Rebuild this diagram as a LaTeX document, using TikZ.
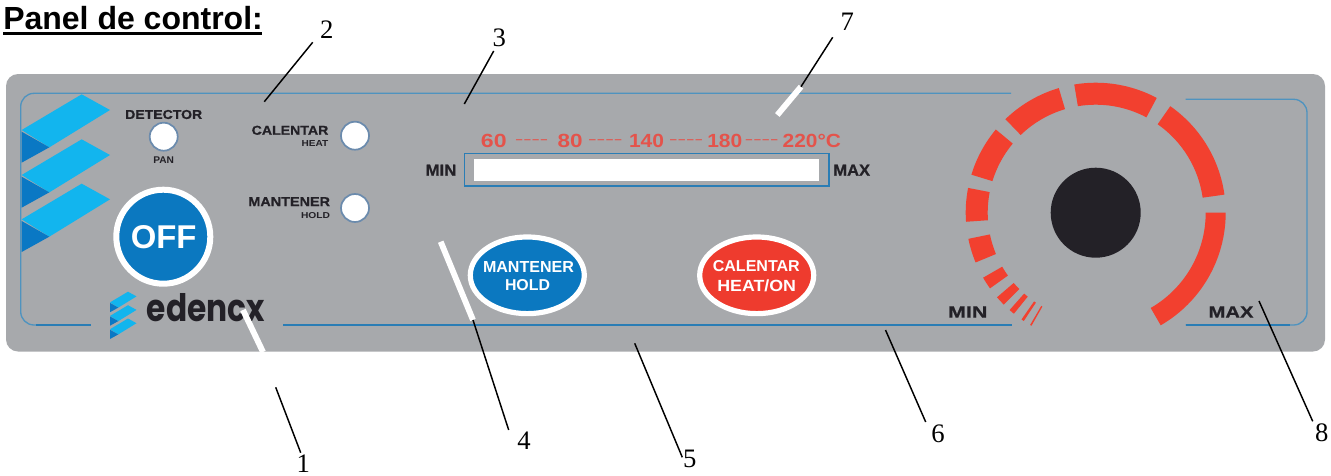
\documentclass[tikz,border=0pt]{standalone}
\usetikzlibrary{shapes.geometric}
\usepackage{fontspec}
\setmainfont{Liberation Serif}
\newfontfamily\pf{Liberation Sans}
\newfontfamily\pfh[FakeBold=0.7]{Liberation Sans Bold}
\newfontfamily\logof{Poppins}
\usepackage{graphicx}
\definecolor{panelgrey}{HTML}{A7A9AC}
\definecolor{frameblue}{HTML}{2A7DB5}
\definecolor{frametop}{HTML}{4F93BF}
\definecolor{btnblue}{HTML}{0B78C0}
\definecolor{btnred}{HTML}{EE3B2E}
\definecolor{ringred}{HTML}{F2402F}
\definecolor{scalered}{HTML}{E4534B}
\definecolor{inkdark}{HTML}{232127}
\definecolor{chevlight}{HTML}{12B5EE}
\definecolor{chevdark}{HTML}{0A78C4}
\definecolor{ledring}{HTML}{6B8BAD}
\newdimen\pxu \pxu=.75pt
\newcommand\fitt[3]{\resizebox{#1\pxu}{#2\pxu}{\pf\bfseries #3}}
\newcommand\fitk[3]{\resizebox{#1\pxu}{#2\pxu}{\pfh #3}}
\newcommand\seg[3][97.5pt]{\fill[ringred] (#2:#1) arc[start angle=#2,end angle=#3,radius=#1] -- (#3:81pt) arc[start angle=#3,end angle=#2,radius=81pt] -- cycle;}
\newcommand\chevrons{%
  \foreach \d in {0,135,268}{
    \fill[chevlight] (65,210+\d) -- (245,103+\d) -- (330,150+\d) -- (148,262+\d) -- cycle;
    \fill[chevdark] (65,215+\d) -- (148,262+\d) -- (65,308+\d) -- cycle;
  }}
\tikzset{
  txt/.style={inner sep=0pt,outer sep=0pt,text=inkdark},
  wtxt/.style={inner sep=0pt,outer sep=0pt,text=white},
  rtxt/.style={inner sep=0pt,outer sep=0pt,text=scalered},
  digit/.style={inner sep=0pt,outer sep=0pt,font=\fontsize{20}{20}\selectfont,text=black},
  leader/.style={draw=black,line width=1.1pt},
  whitelead/.style={draw=white,line width=4.4pt},
  framea/.style={draw=frametop,line width=1pt},
  frameb/.style={draw=frameblue,line width=1.2pt},
  led/.style={circle,draw=ledring,fill=white,line width=1.3pt,minimum size=21pt,inner sep=0pt},
  oval/.style={ellipse,draw=white,line width=3.9pt,minimum width=85.5pt,minimum height=57.5pt,inner sep=0pt},
}
\begin{document}
\begin{tikzpicture}[x=.75pt,y=-.75pt]
\useasboundingbox (0,0) rectangle (1331,475);
% title
\node[anchor=base west,inner sep=0pt,font=\pf\bfseries\fontsize{24}{24}\selectfont] (title) at (3,29) {Panel de control:};
\draw[line width=2.6pt] (3,33.5) -- (262,33.5);
% panel
\fill[panelgrey,rounded corners=9pt] (6,74) rectangle (1325,351.5);
% frame lines
\draw[framea,rounded corners=10pt] (1011,93.3) -- (20.7,93.3) -- (20.7,325) -- (90.7,325);
\draw[frameb] (36,325) -- (90.7,325);
\draw[frameb] (283.3,325) -- (1011.7,325);
\draw[framea,rounded corners=10pt] (1185.7,99.3) -- (1307,99.3) -- (1307,325) -- (1185.7,325);
\draw[frameb] (1185.7,325) -- (1290,325);
% big logo
\begin{scope}[shift={(0,60)},x=.25pt,y=-.25pt]
\chevrons
\end{scope}
% small logo
\begin{scope}[shift={(103.5,281.4)},x=.075pt,y=-.075pt]
\chevrons
\end{scope}
\node[txt] (edencx) at (205.8,307.5) {\resizebox{118\pxu}{28\pxu}{\logof\bfseries edencx}};
% LEDs and labels
\node[led] (ledpan) at (163.7,136.7) {};
\node[led] (ledheat) at (355,135.7) {};
\node[led] (ledhold) at (355,208) {};
\node[txt] (tdet) at (163.7,114.5) {\fitk{77}{9}{DETECTOR}};
\node[txt] (tpan) at (163.7,160.3) {\fitt{20.7}{6.7}{PAN}};
\node[txt] (tcal) at (290,130.3) {\fitk{76.7}{9}{CALENTAR}};
\node[txt] (theat) at (315,143.7) {\fitt{26.7}{6}{HEAT}};
\node[txt] (tman) at (289.2,201.7) {\fitk{81.7}{9}{MANTENER}};
\node[txt] (thold) at (315.5,215.3) {\fitt{29}{6}{HOLD}};
% OFF
\node[circle,fill=btnblue,draw=white,line width=4.5pt,minimum size=70.5pt,inner sep=0pt] (off) at (163.3,236.7) {};
\node[wtxt] (tooff) at (163.7,236.7) {\fitt{65.7}{23}{OFF}};
% gauge
\node[draw=frameblue,line width=1.2pt,minimum width=273.7pt,minimum height=24.4pt,inner sep=0pt] (gauge) at (646.8,169.6) {};
\node[fill=white,minimum width=258.7pt,minimum height=16.5pt,inner sep=0pt] (gaugein) at (646.5,170) {};
\node[rtxt] (s60) at (493.8,141) {\fitt{25.7}{13.3}{60}};
\node[rtxt] (d1) at (531.7,141.5) {\fitt{33}{2.8}{-{}-{}-{}-}};
\node[rtxt] (s80) at (570.2,141) {\fitt{25}{13.3}{80}};
\node[rtxt] (d2) at (605.3,141.5) {\fitt{34.5}{2.8}{-{}-{}-{}-}};
\node[rtxt] (s140) at (646.5,141) {\fitt{35}{13.3}{140}};
\node[rtxt] (d3) at (686,141.5) {\fitt{34}{2.8}{-{}-{}-{}-}};
\node[rtxt] (s180) at (724.8,141) {\fitt{35}{13.3}{180}};
\node[rtxt] (d4) at (761.7,141.5) {\fitt{33.5}{2.8}{-{}-{}-{}-}};
\node[rtxt] (s220) at (811.8,141) {\fitt{58.3}{13.3}{220°C}};
\node[txt] (tmin1) at (441,170.2) {\fitk{30.7}{11}{MIN}};
\node[txt] (tmax1) at (851.7,170.2) {\fitk{36.7}{11}{MAX}};
% buttons
\node[oval,fill=btnblue] (bhold) at (527.3,275.3) {};
\node[oval,fill=btnred] (bheat) at (756.7,275.3) {};
\node[wtxt] (tb1) at (528.5,266.5) {\fitt{91}{11}{MANTENER}};
\node[wtxt] (tb2) at (527.5,285.3) {\fitt{45}{11}{HOLD}};
\node[wtxt] (tb3) at (756.3,266.5) {\fitt{87}{11}{CALENTAR}};
\node[wtxt] (tb4) at (756.7,285.5) {\fitt{78.7}{11.7}{HEAT/ON}};
% ring
\begin{scope}[shift={(1095.7,212.7)}]
\fill[ringred] (0:97.5pt) arc[start angle=0,end angle=-60,radius=97.5pt] -- (-60:82.5pt) arc[start angle=-60,end angle=0,radius=82.5pt] -- cycle;
\seg{8}{55}
\seg{62}{99.5}
\seg{106.5}{134}
\seg{140.2}{163}
\seg{169}{184}
\seg{191.6}{202.5}
\seg{210}{215.6}
\seg{220.6}{225}
\seg{228.5}{231}
\seg{235.2}{236.4}
\seg{239.7}{240.4}
\end{scope}
\node[circle,fill=inkdark,minimum size=67.5pt,inner sep=0pt] (knob) at (1095.7,212.7) {};
\node[txt] (tmin2) at (967.7,312) {\fitk{39.3}{11.3}{MIN}};
\node[txt] (tmax2) at (1231,312) {\fitk{45}{11.3}{MAX}};
% digits
\node[digit] (n1) at (303.3,463.6) {1};
\node[digit] (n2) at (326.7,29.3) {2};
\node[digit] (n3) at (499.3,38.3) {3};
\node[digit] (n4) at (524,441) {4};
\node[digit] (n5) at (689.7,459.3) {5};
\node[digit] (n6) at (938,434) {6};
\node[digit] (n7) at (847.3,21.7) {7};
\node[digit] (n8) at (1321.7,432.3) {8};
% leader end points
\coordinate (a1) at (275.7,387.3); \coordinate (b1) at (300.7,452.7);
\coordinate (w1a) at (243,310); \coordinate (w1b) at (263,352);
\coordinate (a2) at (312.7,42.3); \coordinate (b2) at (264.3,101.7);
\coordinate (a3) at (493.7,51); \coordinate (b3) at (464.3,104);
\coordinate (a4) at (473,320); \coordinate (b4) at (508.7,430);
\coordinate (w4a) at (440.7,241.7);
\coordinate (a5) at (634.7,343.3); \coordinate (b5) at (682.3,457.3);
\coordinate (a6) at (885.5,330); \coordinate (b6) at (925.7,422);
\coordinate (a7) at (832.7,37.3); \coordinate (b7) at (801,86.7);
\coordinate (w7b) at (777.3,115);
\coordinate (a8) at (1259,301); \coordinate (b8) at (1312.7,421.3);
% leaders
\draw[whitelead] (w1a) -- (w1b);
\draw[whitelead] (w4a) -- (a4);
\draw[whitelead] (b7) -- (w7b);
\draw[leader] (a1) -- (b1);
\draw[leader] (a2) -- (b2);
\draw[leader] (a3) -- (b3);
\draw[leader] (a4) -- (b4);
\draw[leader] (a5) -- (b5);
\draw[leader] (a6) -- (b6);
\draw[leader] (a7) -- (b7);
\draw[leader] (a8) -- (b8);
\end{tikzpicture}
\end{document}
